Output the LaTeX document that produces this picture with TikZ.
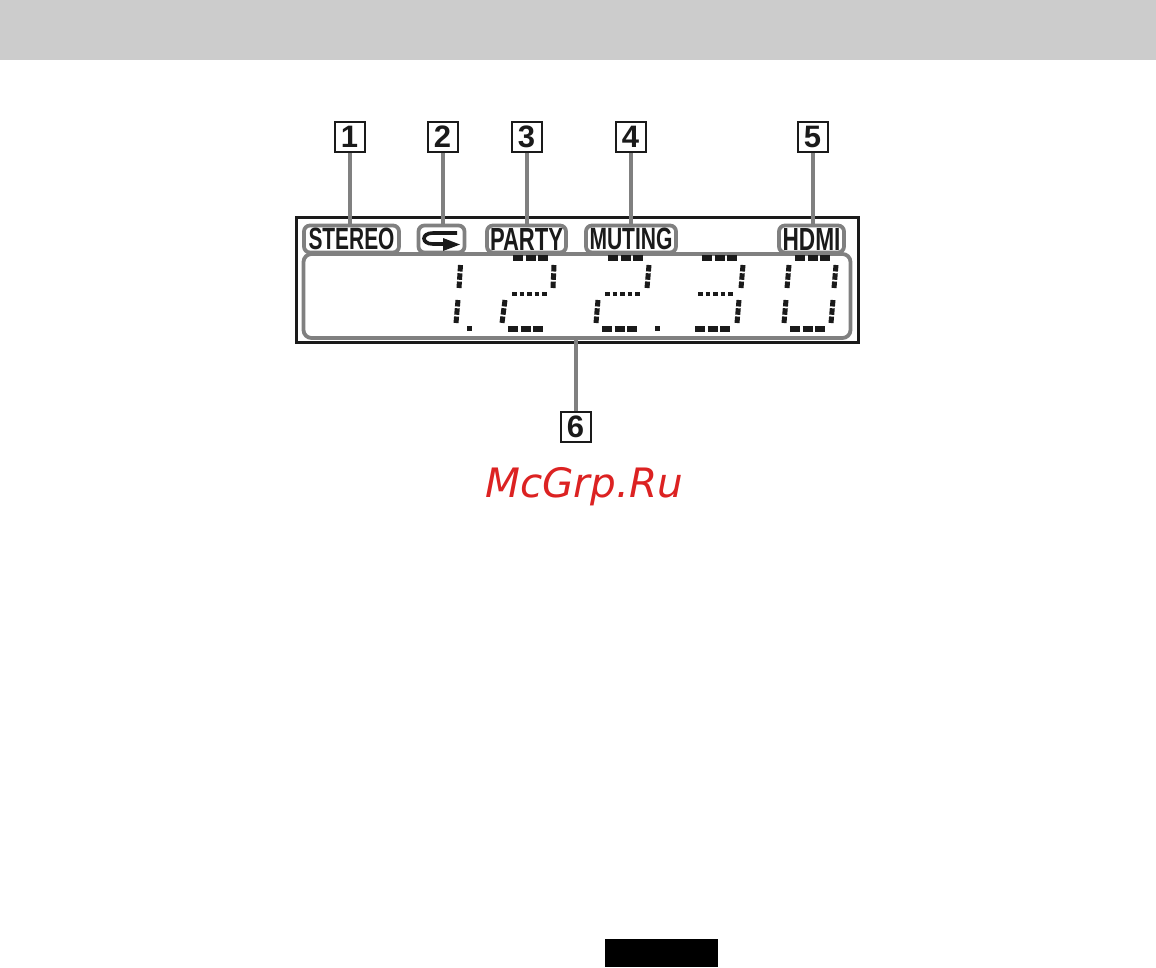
\documentclass[tikz,border=0pt]{standalone}
\usepackage{fontspec}
\setmainfont{Liberation Sans}
\newfontfamily\wmfont{DejaVu Sans}
\definecolor{lead}{HTML}{808080}
\definecolor{hdr}{HTML}{CCCCCC}
\definecolor{wm}{HTML}{DC2222}
\definecolor{ink}{HTML}{1A1A1A}
\tikzset{
  numbox/.style={draw=ink,line width=2pt,fill=white,minimum width=30pt,minimum height=30pt,inner sep=0pt,font=\bfseries\fontsize{31}{31}\selectfont,text=ink},
  lead/.style={draw=lead,line width=4pt},
  tag/.style={draw=lead,line width=3.8pt,rounded corners=6pt,fill=white,inner sep=0pt,text=ink},
  segh/.style={line width=5.4pt,draw=ink,dash pattern=on 10pt off 2.5pt},
  segm/.style={line width=4.8pt,draw=ink,dash pattern=on 4.5pt off 3pt},
  segv/.style={line width=5pt,draw=ink,dash pattern=on 6.5pt off 1.8pt},
  dotseg/.style={fill=ink,inner sep=0pt,minimum size=5pt},
}
\newcommand{\lcdtext}[3]{\resizebox{#1pt}{#2pt}{\bfseries\fontsize{20}{20}\selectfont #3}}
\begin{document}
\begin{tikzpicture}[x=1pt,y=-1pt]
\useasboundingbox (0,0) rectangle (1156,967);
\fill[white] (0,0) rectangle (1156,967);
\fill[hdr] (0,0) rectangle (1156,60);
\fill[black] (605,939) rectangle (718,967);
% display
\node[draw=ink,line width=3pt,minimum width=562pt,minimum height=125pt,inner sep=0pt] (display) at (577,279.5) {};
\node[tag,minimum width=547pt,minimum height=84pt,rounded corners=8pt] (panel) at (577,296) {};
% tags
\node[tag,minimum width=95pt,minimum height=27pt] (stereo) at (351.5,239) {\lcdtext{86}{21.5}{STEREO}};
\node[tag,minimum width=46pt,minimum height=27pt] (loop) at (441.5,239) {};
\node[tag,minimum width=79pt,minimum height=27pt] (party) at (526.5,239) {\lcdtext{73}{22}{PARTY}};
\node[tag,minimum width=90pt,minimum height=27pt] (muting) at (631,239) {\lcdtext{83}{21.5}{MUTING}};
\node[tag,minimum width=65pt,minimum height=27pt] (hdmi) at (811.5,239) {\lcdtext{58}{22}{HDMI}};
% loop icon
\draw[line width=3.6pt,ink] (457,233) -- (433,233) .. controls (421,233) and (421,244) .. (433,244) -- (446,244);
\fill[ink] (443,238) -- (460,244.5) -- (443,251) -- cycle;
% number boxes
\node[numbox] (n1) at (349.5,137) {1};
\node[numbox] (n2) at (442.5,137) {2};
\node[numbox] (n3) at (526.5,137) {3};
\node[numbox] (n4) at (630.5,137) {4};
\node[numbox] (n5) at (812.5,137) {5};
\node[numbox] (n6) at (575.5,427) {6};
% leaders
\draw[lead] (n1.south) -- (n1.south |- stereo.north);
\draw[lead] (n2.south) -- (n2.south |- loop.north);
\draw[lead] (n3.south) -- (n3.south |- party.north);
\draw[lead] (n4.south) -- (n4.south |- muting.north);
\draw[lead] (n5.south) -- (n5.south |- hdmi.north);
\draw[lead] (n6.north) -- (n6.north |- panel.south);
% digit 1
\draw[segv] (460.5,265) -- (459,288);
\draw[segv] (458,300) -- (456,323);
\node[dotseg] (dp1) at (469,328) {};
% digit 2
\draw[segh] (513,258) -- (550,258);
\draw[segv] (554,265) -- (553,288);
\draw[segm] (512,294) -- (548,294);
\draw[segv] (505,300) -- (502,323);
\draw[segh] (508,329) -- (544,329);
% digit 2 second
\draw[segh] (608,258) -- (644,258);
\draw[segv] (649,265) -- (647,288);
\draw[segm] (605,294) -- (641,294);
\draw[segv] (598,300) -- (596,323);
\draw[segh] (602,329) -- (638,329);
\node[dotseg] (dp2) at (657,328) {};
% digit 3
\draw[segh] (702,258) -- (738,258);
\draw[segv] (743,265) -- (741,288);
\draw[segm] (698,294) -- (733,294);
\draw[segv] (739,300) -- (737,323);
\draw[segh] (695,329) -- (731,329);
% digit 0
\draw[segh] (795,258) -- (831,258);
\draw[segv] (789,265) -- (787,288);
\draw[segv] (836,265) -- (834,288);
\draw[segv] (786,300) -- (784,323);
\draw[segv] (833,300) -- (831,323);
\draw[segh] (790,329) -- (826,329);
% watermark
\node[inner sep=0pt,text=wm] (mark) at (584,487) {\wmfont\itshape\fontsize{40.5}{40.5}\selectfont McGrp.Ru};
\end{tikzpicture}
\end{document}
